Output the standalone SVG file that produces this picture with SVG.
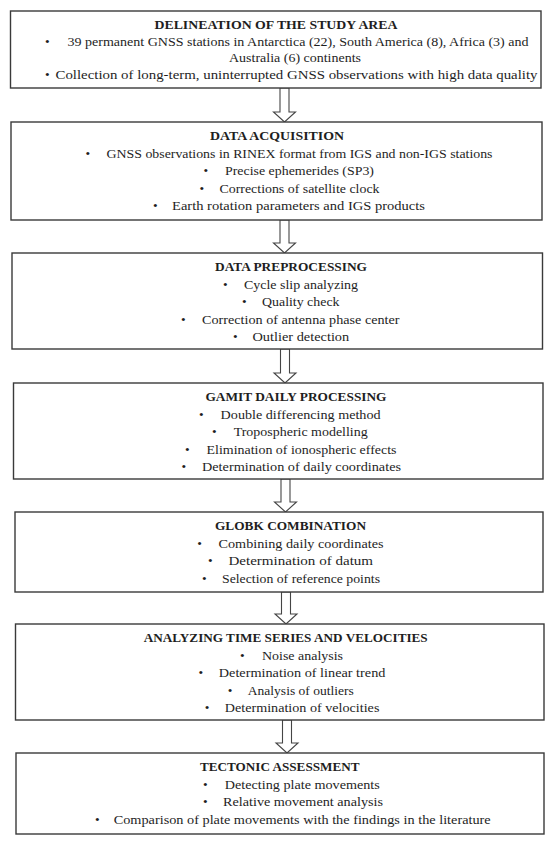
<svg xmlns="http://www.w3.org/2000/svg" width="550" height="843" viewBox="0 0 550 843">
<style>
.box{fill:#fff;stroke:#3a3a3a;stroke-width:1.4}
.arr{fill:#fff;stroke:#454545;stroke-width:1.1;stroke-linejoin:miter}
text{font-family:"Liberation Serif","Times New Roman",serif;font-size:13.3px;fill:#1e1e1e}
.t{font-weight:bold}
</style>
<rect width="550" height="843" fill="#fff"/>
<g id="connectors">
<path class="arr" d="M280,88 V112 H273.5 L284.5,122 L295.5,112 H289 V88 Z"/>
<path class="arr" d="M280,220 V243 H273.5 L284.5,253 L295.5,243 H289 V220 Z"/>
<path class="arr" d="M280.5,349 V373 H274 L285,383 L296,373 H289.5 V349 Z"/>
<path class="arr" d="M281,479 V502 H274.5 L285.5,512 L296.5,502 H290 V479 Z"/>
<path class="arr" d="M281.5,592 V614 H275 L286,624 L297,614 H290.5 V592 Z"/>
<path class="arr" d="M282.5,720 V743 H276 L287,753 L298,743 H291.5 V720 Z"/>
</g>
<g id="n1">
<rect class="box" x="10.5" y="11" width="530.5" height="77"/>
<text class="t" x="276" y="29.3" text-anchor="middle" textLength="243" lengthAdjust="spacingAndGlyphs">DELINEATION OF THE STUDY AREA</text>
<text x="45" y="45.8">•</text>
<text x="67.5" y="45.8" textLength="461" lengthAdjust="spacingAndGlyphs">39 permanent GNSS stations in Antarctica (22), South America (8), Africa (3) and</text>
<text x="229" y="62.3" textLength="132" lengthAdjust="spacingAndGlyphs">Australia (6) continents</text>
<text x="45" y="78.8">•</text>
<text x="55.5" y="78.8" textLength="482" lengthAdjust="spacingAndGlyphs">Collection of long-term, uninterrupted GNSS observations with high data quality</text>
</g>
<g id="n2">
<rect class="box" x="11" y="122" width="531" height="98"/>
<text class="t" x="277" y="140.3" text-anchor="middle" textLength="134" lengthAdjust="spacingAndGlyphs">DATA ACQUISITION</text>
<text x="85.5" y="157.8">•</text>
<text x="106.5" y="157.8" textLength="386" lengthAdjust="spacingAndGlyphs">GNSS observations in RINEX format from IGS and non-IGS stations</text>
<text x="203.5" y="175.3">•</text>
<text x="225" y="175.3" textLength="149" lengthAdjust="spacingAndGlyphs">Precise ephemerides (SP3)</text>
<text x="199.5" y="192.8">•</text>
<text x="219.5" y="192.8" textLength="160" lengthAdjust="spacingAndGlyphs">Corrections of satellite clock</text>
<text x="153" y="210.3">•</text>
<text x="172" y="210.3" textLength="253" lengthAdjust="spacingAndGlyphs">Earth rotation parameters and IGS products</text>
</g>
<g id="n3">
<rect class="box" x="12" y="253" width="530.5" height="96"/>
<text class="t" x="215" y="271.3" textLength="152" lengthAdjust="spacingAndGlyphs">DATA PREPROCESSING</text>
<text x="223" y="288.8">•</text>
<text x="244" y="288.8" textLength="114" lengthAdjust="spacingAndGlyphs">Cycle slip analyzing</text>
<text x="242" y="306.3">•</text>
<text x="262" y="306.3" textLength="77.5" lengthAdjust="spacingAndGlyphs">Quality check</text>
<text x="181" y="323.8">•</text>
<text x="202" y="323.8" textLength="197.5" lengthAdjust="spacingAndGlyphs">Correction of antenna phase center</text>
<text x="233" y="341.3">•</text>
<text x="252.5" y="341.3" textLength="96.7" lengthAdjust="spacingAndGlyphs">Outlier detection</text>
</g>
<g id="n4">
<rect class="box" x="13.5" y="383" width="529.5" height="96"/>
<text class="t" x="205.5" y="401.3" textLength="181" lengthAdjust="spacingAndGlyphs">GAMIT DAILY PROCESSING</text>
<text x="199" y="418.8">•</text>
<text x="220.6" y="418.8" textLength="160" lengthAdjust="spacingAndGlyphs">Double differencing method</text>
<text x="212" y="436.3">•</text>
<text x="233.7" y="436.3" textLength="134" lengthAdjust="spacingAndGlyphs">Tropospheric modelling</text>
<text x="185" y="453.8">•</text>
<text x="206.5" y="453.8" textLength="190" lengthAdjust="spacingAndGlyphs">Elimination of ionospheric effects</text>
<text x="181.4" y="471.3">•</text>
<text x="202" y="471.3" textLength="199" lengthAdjust="spacingAndGlyphs">Determination of daily coordinates</text>
</g>
<g id="n5">
<rect class="box" x="15" y="512" width="528" height="80"/>
<text class="t" x="215" y="530.3" textLength="151" lengthAdjust="spacingAndGlyphs">GLOBK COMBINATION</text>
<text x="197.3" y="547.8">•</text>
<text x="218.5" y="547.8" textLength="165" lengthAdjust="spacingAndGlyphs">Combining daily coordinates</text>
<text x="208" y="565.3">•</text>
<text x="228.4" y="565.3" textLength="144.7" lengthAdjust="spacingAndGlyphs">Determination of datum</text>
<text x="202" y="582.8">•</text>
<text x="222" y="582.8" textLength="158" lengthAdjust="spacingAndGlyphs">Selection of reference points</text>
</g>
<g id="n6">
<rect class="box" x="15.5" y="624" width="528.5" height="96"/>
<text class="t" x="143.7" y="642.3" textLength="284" lengthAdjust="spacingAndGlyphs">ANALYZING TIME SERIES AND VELOCITIES</text>
<text x="240" y="659.8">•</text>
<text x="262" y="659.8" textLength="81" lengthAdjust="spacingAndGlyphs">Noise analysis</text>
<text x="198.4" y="677.3">•</text>
<text x="218.8" y="677.3" textLength="166.6" lengthAdjust="spacingAndGlyphs">Determination of linear trend</text>
<text x="227.7" y="694.8">•</text>
<text x="247.8" y="694.8" textLength="106" lengthAdjust="spacingAndGlyphs">Analysis of outliers</text>
<text x="204.7" y="712.3">•</text>
<text x="224.8" y="712.3" textLength="154.6" lengthAdjust="spacingAndGlyphs">Determination of velocities</text>
</g>
<g id="n7">
<rect class="box" x="16" y="753" width="528" height="81"/>
<text class="t" x="200" y="771.3" textLength="159.5" lengthAdjust="spacingAndGlyphs">TECTONIC ASSESSMENT</text>
<text x="203" y="788.8">•</text>
<text x="224.8" y="788.8" textLength="155" lengthAdjust="spacingAndGlyphs">Detecting plate movements</text>
<text x="203" y="806.3">•</text>
<text x="223" y="806.3" textLength="160" lengthAdjust="spacingAndGlyphs">Relative movement analysis</text>
<text x="95" y="823.8">•</text>
<text x="113.7" y="823.8" textLength="377" lengthAdjust="spacingAndGlyphs">Comparison of plate movements with the findings in the literature</text>
</g>
</svg>
